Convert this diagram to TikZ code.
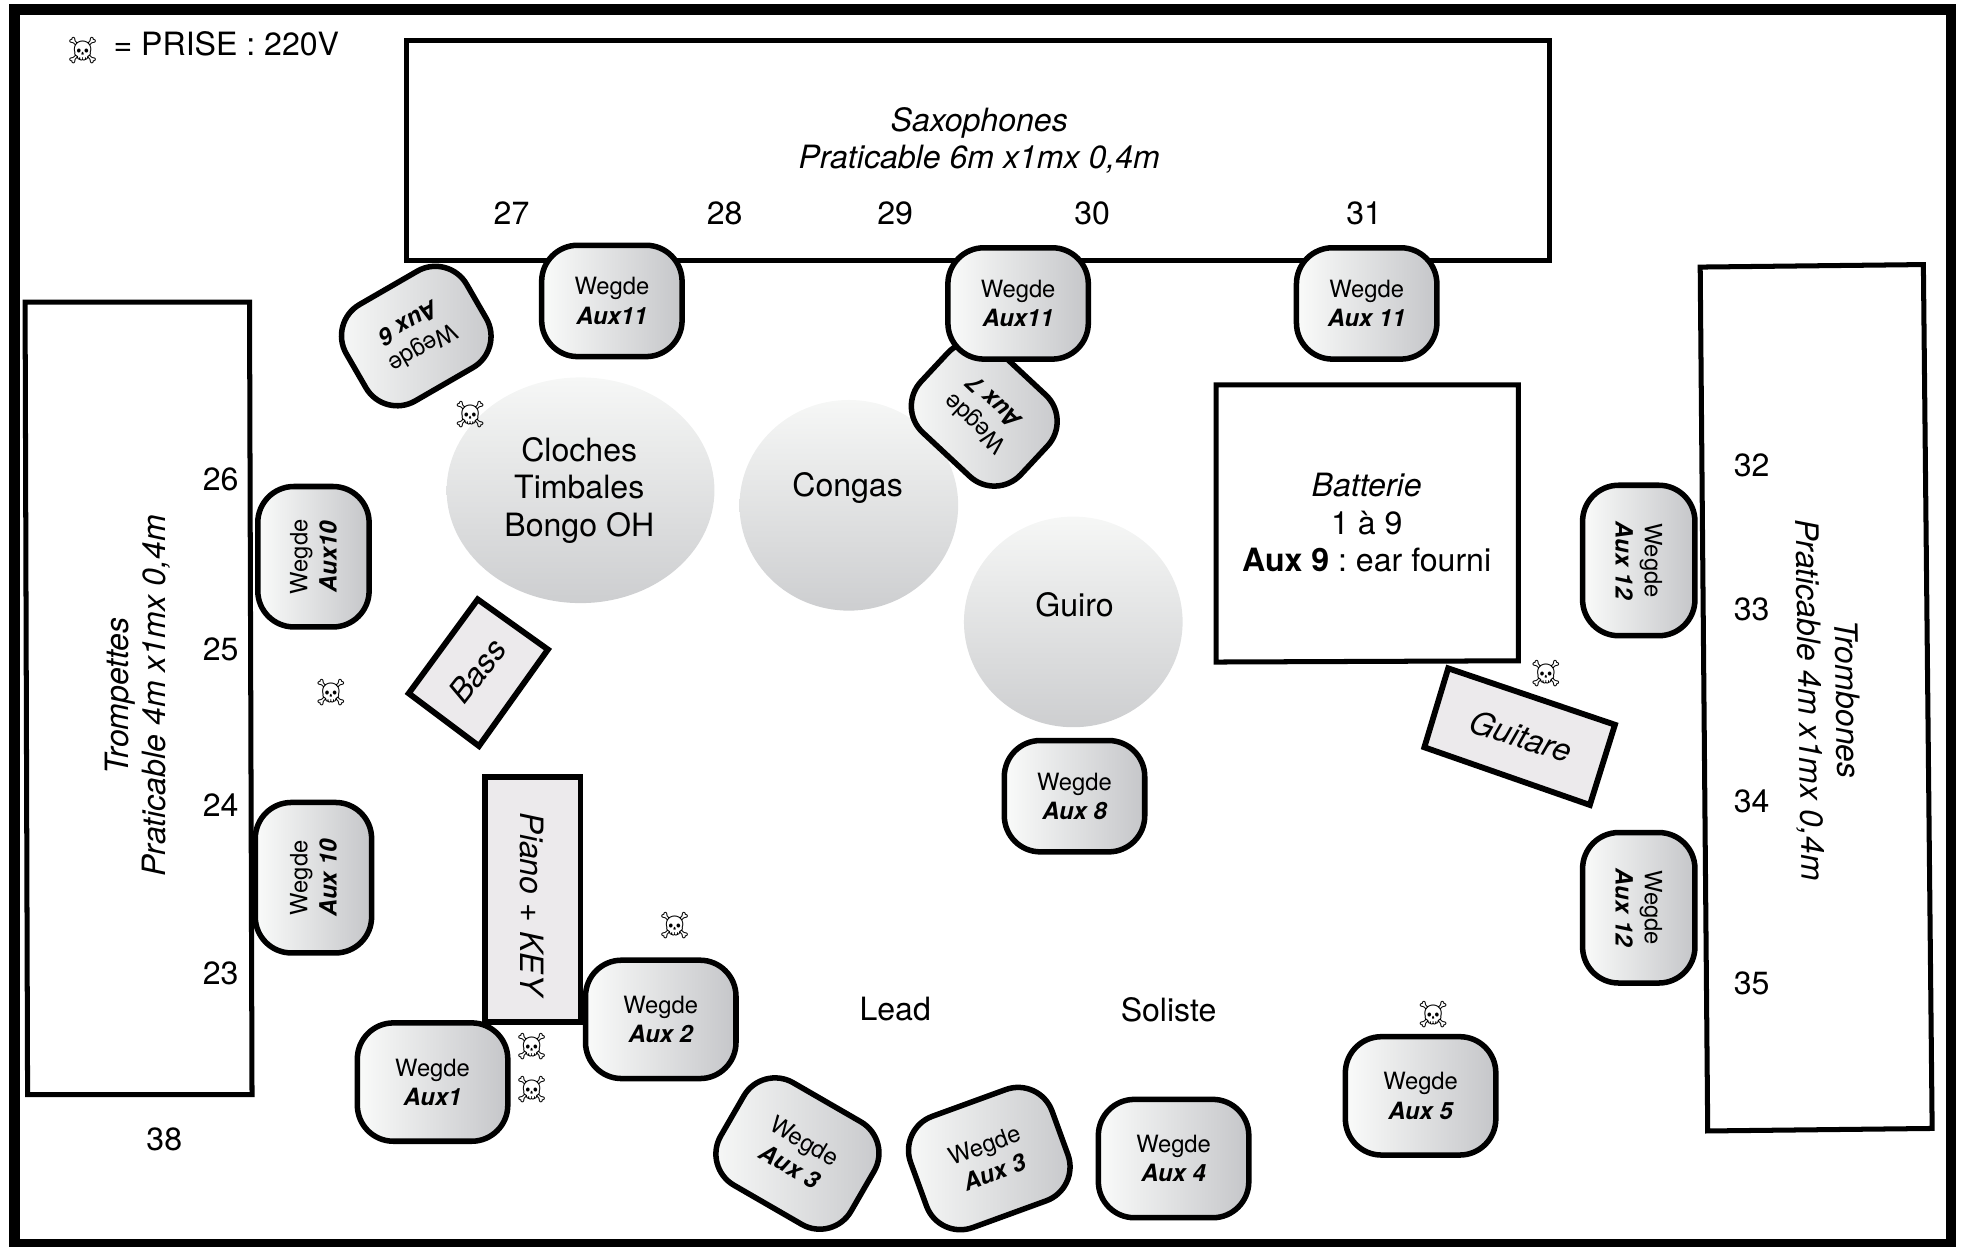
\documentclass[tikz,border=0pt]{standalone}
\usepackage{fontspec}
\setmainfont{TeX Gyre Heros}
\newfontfamily\skullfont{Noto Emoji}
\usetikzlibrary{shapes.geometric}

\tikzset{
	wedgebox/.style={rectangle, draw, line width=0.55mm, rounded corners=3.6mm, left color=wedgeleft, right color=wedgeright, align=center, inner sep=0pt, minimum width=14mm, minimum height=11.1mm, font=\fontsize{6.75}{8.3}\selectfont},
	wedgebig/.style={wedgebox, minimum width=15mm, minimum height=11.8mm},
	wedgeside/.style={wedgebig, minimum height=11.2mm},
	platform/.style={line width=0.5mm},
	drum/.style={ellipse, top color=drumtop, bottom color=drumbottom, inner sep=0pt},
	instr/.style={draw, line width=0.58mm, fill=instrfill},
	label/.style={align=center, inner sep=0pt, font=\fontsize{9.1}{10.6}\selectfont\frenchspacing},
	skull/.style={inner sep=0pt, font=\skullfont\fontsize{7.4}{8}\selectfont},
}
\definecolor{wedgeleft}{HTML}{FAFBFA}
\definecolor{wedgeright}{HTML}{C5C6C9}
\definecolor{drumtop}{HTML}{F6F7F6}
\definecolor{drumbottom}{HTML}{CDCED0}
\definecolor{instrfill}{HTML}{ECEAEC}
\newcommand{\aux}[1]{Wegde\\{\bfseries\itshape #1}}

\begin{document}
\begin{tikzpicture}[x=0.125mm,y=-0.125mm]
	\useasboundingbox (0,0) rectangle (1568,994);
	\draw[line width=1.06mm] (11.5,7.5) rectangle (1556,992); % Rahmen

	% Praticables
	\draw[platform] (324,32) rectangle (1236,208);
	\draw[platform] (20,241) -- (199,241) -- (201,873) -- (22,873) -- cycle;
	\draw[platform] (1356,213) -- (1534,211) -- (1541,900) -- (1362,902) -- cycle;
	\draw[platform] (970,307) -- (1211,307) -- (1211,527) -- (970,528) -- cycle;

	% Percussions
	\node[drum, minimum width=26.7mm, minimum height=22.5mm] (cloches) at (463,391) {};
	\node[drum, minimum width=21.8mm, minimum height=21mm] (congas) at (677,403) {};
	\node[drum, minimum width=21.8mm, minimum height=21mm] (guiro) at (856,496) {};

	% Instruments
	\draw[instr] (381,478) -- (437,518) -- (382,595) -- (326,553) -- cycle;
	\draw[instr] (387,620) rectangle (463,815);
	\draw[instr] (1155,533) -- (1288,578) -- (1268,642) -- (1136,596) -- cycle;

	% Wedges
	\node[wedgebox] (aux11a) at (488,240) {\aux{Aux11}};
	\node[wedgebox, rotate=210, minimum width=13.85mm] (aux6) at (332,268) {\aux{Aux 6}};
	\node[wedgebox, rotate=137, minimum width=13.6mm] (aux7) at (785,330) {\aux{Aux 7}};
	\node[wedgebox] (aux11b) at (812,242) {\aux{Aux11}};
	\node[wedgebox] (aux11c) at (1090,242) {\aux{Aux 11}};
	\node[wedgebox, rotate=90] (aux10a) at (250,444) {\aux{Aux10}};
	\node[wedgeside, rotate=90, minimum height=11.6mm] (aux10b) at (250,700) {\aux{Aux 10}};
	\node[wedgeside, rotate=-90] (aux12a) at (1307,447) {\aux{Aux 12}};
	\node[wedgeside, rotate=-90] (aux12b) at (1307,724) {\aux{Aux 12}};
	\node[wedgebox] (aux8) at (857,635) {\aux{Aux 8}};
	\node[wedgebig] (aux1) at (345,863) {\aux{Aux1}};
	\node[wedgebig] (aux2) at (527,813) {\aux{Aux 2}};
	\node[wedgebig, rotate=-30] (aux3a) at (636,920) {\aux{Aux 3}};
	\node[wedgebig, rotate=20] (aux3b) at (789,924) {\aux{Aux 3}};
	\node[wedgebig] (aux4) at (936,924) {\aux{Aux 4}};
	\node[wedgebig] (aux5) at (1133,874) {\aux{Aux 5}};

	% Beschriftung
	\node[label] (sax) at (781,112) {\itshape Saxophones\\\itshape Praticable 6m x1mx 0,4m};
	\node[label, rotate=90] (trompettes) at (110,555) {\itshape Trompettes\\\itshape Praticable 4m x1mx 0,4m};
	\node[label, rotate=-89] (trombones) at (1457,558) {\itshape Trombones\\\itshape Praticable 4m x1mx 0,4m};
	\node[label] (batterie) at (1090,417) {\itshape Batterie\\1 à 9\\\textbf{Aux 9} : ear fourni};
	\node[label] (clochestxt) at (462,391) {Cloches\\Timbales\\Bongo OH};
	\node[label] (congastxt) at (676,389) {Congas};
	\node[label] (guirotxt) at (857,482) {Guiro};
	\node[label, rotate=52] (bass) at (381,535) {\itshape Bass};
	\node[label, rotate=-90] (piano) at (424,721) {\itshape Piano + KEY};
	\node[label, rotate=-18] (guitare) at (1213,587) {\itshape Guitare};
	\node[label] (lead) at (714,805) {Lead};
	\node[label] (soliste) at (932,805) {Soliste};
	\node[label, anchor=west] (prise) at (90,35) {= PRISE : 220V};

	% Nummern
	\foreach \num/\px/\py in {27/408/170, 28/578/170, 29/714/170, 30/871/170, 31/1088/170,
		26/176/382, 25/176/518, 24/176/642, 23/176/776, 38/131/909,
		32/1397/371, 33/1397/486, 34/1397/639, 35/1397/784}
		\node[label] (n\num) at (\px,\py) {\num};

	% Prises
	\foreach \px/\py [count=\i] in {66/40, 375/331, 264/552, 538/738, 424/835, 424/869, 1233/537, 1143/809}
		\node[skull] (skull\i) at (\px,\py) {☠};
\end{tikzpicture}
\end{document}
